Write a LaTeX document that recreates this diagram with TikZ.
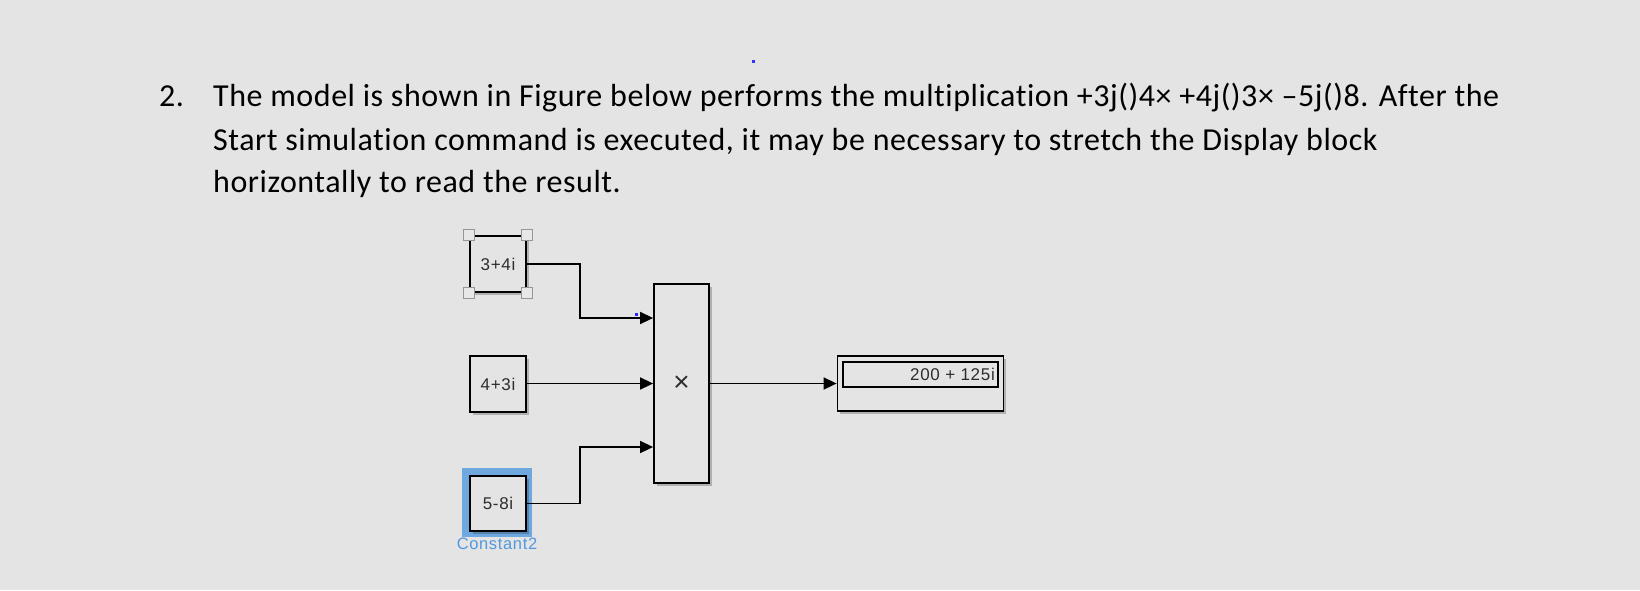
\documentclass[tikz,border=0pt]{standalone}
\usepackage{fontspec}
\setmainfont[Ligatures=NoCommon,LetterSpace=1.7]{Carlito}
\newfontfamily\blockfont[LetterSpace=4]{Liberation Sans}
\newfontfamily\timesfont{Liberation Sans}
\usetikzlibrary{arrows.meta,shadows,calc}
\definecolor{bgcol}{RGB}{228,228,228}
\definecolor{selblue}{RGB}{111,168,222}
\definecolor{lblblue}{RGB}{82,152,222}
\definecolor{handlegray}{RGB}{150,150,150}
\definecolor{blocktext}{RGB}{45,45,45}
\begin{document}
\begin{tikzpicture}[x=1pt,y=-1pt,
  qtext/.style={anchor=base west,inner sep=0pt,font=\fontsize{32}{38}\selectfont,text=black},
  sblock/.style={draw=black,line width=1.8pt,fill=bgcol,inner sep=0pt,
     font=\blockfont\fontsize{17}{19}\selectfont,text=blocktext,
     drop shadow={shadow xshift=2.5pt,shadow yshift=-3pt,opacity=0.22,fill=black}},
  wire/.style={line width=1.6pt,draw=black,-{Triangle[length=13pt,width=12pt]}},
  handle/.style={draw=handlegray,line width=1.3pt,fill=bgcol!90!white,minimum size=11pt,inner sep=0pt}
]
\useasboundingbox[fill=bgcol] (0,0) rectangle (1640,590);

% question text
\node[qtext] (num) at (159,106) {2.};
\node[qtext] (l1) at (213,106) {The model is shown in Figure below performs the multiplication +3j()4× +4j()3× –5j()8. After the};
\node[qtext] (l2) at (213,150) {Start simulation command is executed, it may be necessary to stretch the Display block};
\node[qtext] (l3) at (213,192) {horizontally to read the result.};

% tiny blue artefacts
\fill[blue!80!white] (751.5,60) rectangle (755,62.5);

% selection highlight of Constant2
\fill[selblue] (462,468) rectangle (532,537);

% constant blocks
\node[sblock,minimum width=56pt,minimum height=56pt] (c1) at (498,264) {3+4i};
\node[sblock,minimum width=56pt,minimum height=56pt] (c2) at (498,384) {4+3i};
\node[sblock,minimum width=56pt,minimum height=55pt] (c3) at (498,503.5) {5-8i};
\node[anchor=north,inner sep=0pt,text=lblblue,font=\blockfont\fontsize{16.5}{18}\selectfont] (lbl) at (497,538) {Constant2};

% selection handles on first block
\foreach \a in {north west,north east,south west,south east}
  \node[handle] at (c1.\a) {};

% product block
\node[sblock,minimum width=55pt,minimum height=199pt] (mult) at (681.5,383.5) {};
\node[inner sep=0pt,font=\timesfont\fontsize{28}{30}\selectfont,text=blocktext] (times) at (mult.center) {×};

% display block
\node[sblock,minimum width=166pt,minimum height=55pt] (disp) at (920.5,383.5) {};
\node[draw=black,line width=1.2pt,fill=bgcol,minimum width=155pt,minimum height=25pt,inner sep=0pt] (val) at (920.5,374.5) {};
\node[anchor=east,inner sep=0pt,font=\blockfont\fontsize{17}{19}\selectfont,text=blocktext] (valtxt) at (995,374) {200 + 125i};

% ports
\coordinate (in1) at (mult.west |- 0,318);
\coordinate (in2) at (mult.west |- 0,383.5);
\coordinate (in3) at (mult.west |- 0,447);
\coordinate (out) at (disp.west |- 0,383.5);

% blue dot near first input
\fill[blue!85!white] (634.5,313) rectangle (637.5,315.5);

% connectors
\draw[wire] (c1.east) -- (580,264) |- (in1);
\draw[wire] (c2.east |- 0,383.5) -- (in2);
\draw[wire] (c3.east) -- (580,503.5) |- (in3);
\draw[wire] (mult.east |- 0,383.5) -- (out);
\end{tikzpicture}
\end{document}
